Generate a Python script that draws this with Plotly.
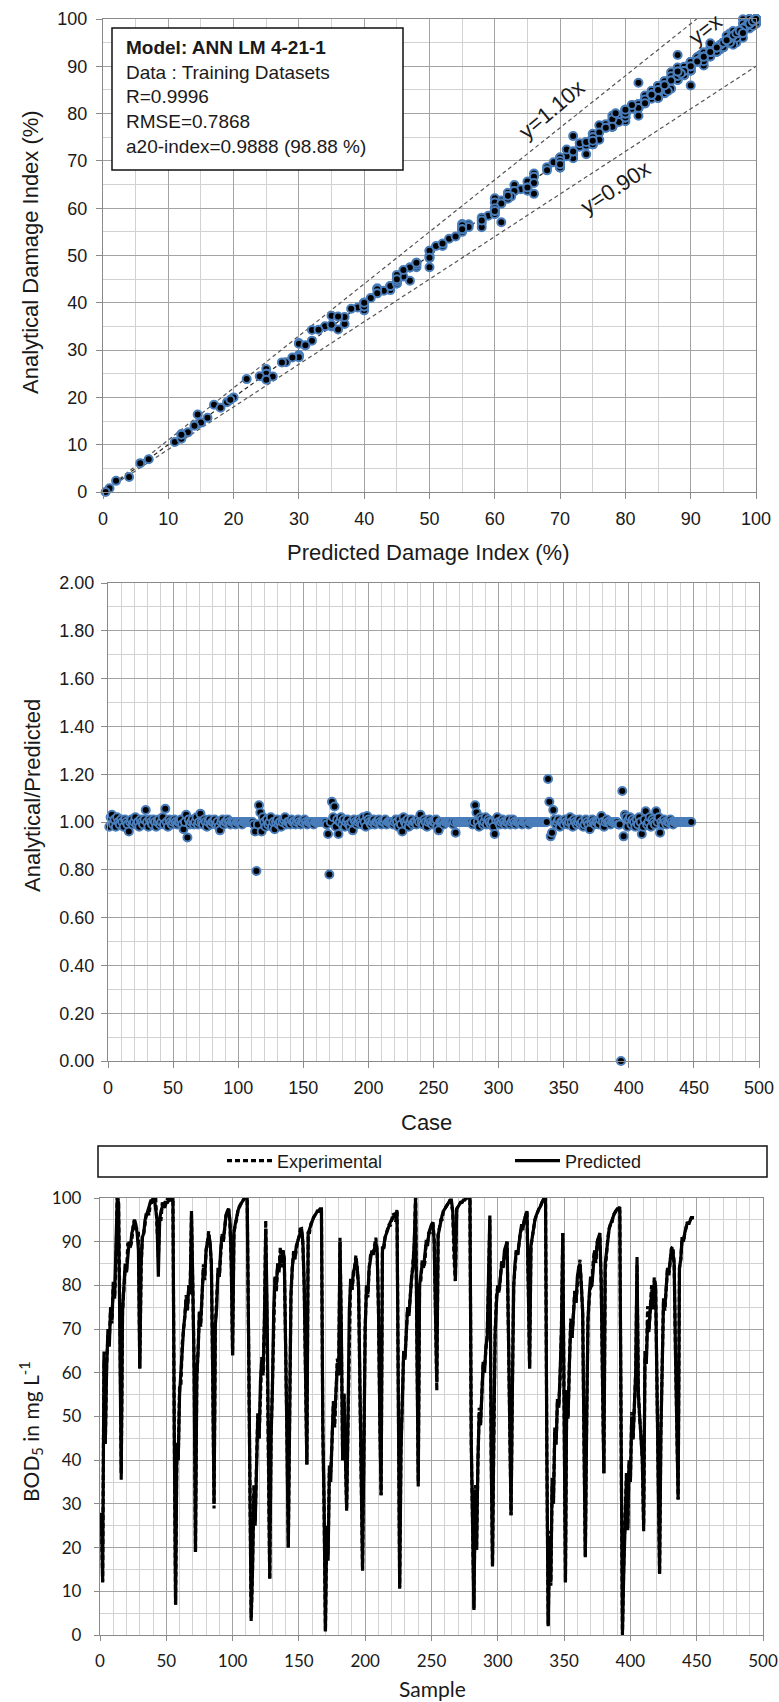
import plotly.graph_objects as go

W, H = 779, 1702

# ---------------- data ----------------
# predicted damage index for each case / sample (1..448)
predicted = [
    28, 12, 63, 44, 61, 70, 66, 75, 72, 80, 77, 86, 100, 99, 75, 37,          # 1-16
    74, 80, 85, 83, 88, 90, 89, 92, 93, 95, 94, 92, 88, 61,                   # 17-30
    85, 91, 92, 95, 96, 97, 98, 99, 99, 100, 100, 98, 95, 82,                 # 31-44
    95, 97, 98, 98, 99, 99, 99, 99.5, 100, 100, 100, 47, 7,                   # 45-57
    44, 40, 55, 61, 66, 70, 73, 77, 75, 80, 78, 97, 80, 60, 19,               # 58-72
    59, 65, 74, 72, 78, 84, 82, 88, 90, 91.5, 90, 85, 60, 30,                 # 73-86
    71, 75, 84, 82, 88, 91, 90, 94, 96, 97, 97.5, 95, 85, 64,                 # 87-100
    92, 94, 96, 97, 98, 98.5, 99, 99.5, 100, 100, 100, 70, 30, 4,             # 101-114
    14.5, 32, 25, 40, 50, 45, 58, 63, 60, 72, 93, 75, 40, 13,                 # 115-128
    45, 56, 74, 82, 80, 85, 83, 87, 85, 88, 86, 70, 45, 20,                   # 129-142
    52, 78, 84, 87, 86, 89, 90, 91, 92, 93, 90, 80, 60, 39,                   # 143-156
    92, 93, 94, 95, 95.5, 96, 96.5, 97, 97, 97.5, 97.5, 48, 30, 1,            # 157-170
    25, 17, 38, 35, 45, 53, 50, 58, 62, 60, 90, 70, 40, 55, 45, 29,           # 171-186
    48, 74, 81, 79, 83, 84, 86, 84, 80, 55, 35, 15,                           # 187-198
    42, 70, 80, 78, 84, 86, 88, 87, 89, 90, 88, 75, 50, 32,                   # 199-212
    88, 89, 91, 92, 93, 94, 94.5, 95, 95.5, 96, 96.5, 96.5, 43, 11,           # 213-226
    42, 55, 65, 63, 70, 75, 73, 78, 82, 84, 90, 100, 70, 34,                  # 227-240
    80, 82, 85, 84, 87, 90, 89, 92, 93, 94, 94.5, 90, 75, 58,                 # 241-254
    91.5, 93, 95, 96, 97, 97.5, 98, 98.5, 99, 99.5, 99.5, 97, 90, 81,         # 255-268
    97.5, 98, 98.5, 99, 99, 99.5, 99.5, 100, 100, 100, 100, 44, 25, 5.7,      # 269-282
    33, 19.5, 40, 51, 48, 58, 62.5, 60, 66, 68, 80, 96, 42, 16,               # 283-296
    47, 69, 76, 80, 79, 83, 85, 84, 88, 89, 90, 70, 45, 27.4,                 # 297-310
    56, 80, 85, 88, 87, 90, 92, 94, 93, 95, 96, 97, 80, 61,                   # 311-324
    89, 91.5, 94, 95, 96, 97, 97.5, 98, 99, 99.5, 100, 100, 41, 2,            # 325-338
    22, 12, 36, 30, 47, 44, 54, 52, 60, 70, 92, 60, 12,                       # 339-351
    56, 50, 62, 71, 68, 75, 78, 76, 82, 84, 85, 80, 74, 45, 18,               # 352-366
    48, 72, 78, 82, 80, 85, 88, 86, 90, 91, 92, 80, 55, 37,                   # 367-380
    85, 88, 90, 93, 94, 95, 96, 96.5, 97, 97.5, 97.5, 98, 46, 0.4,            # 381-394
    14.5, 26, 36, 24, 40, 35, 50, 45, 55, 60, 86.5, 55, 50, 45, 40, 25,       # 395-410
    65, 62, 72, 70, 75, 78.5, 76, 81, 80, 60, 30, 14,                         # 411-422
    46, 66, 77, 75, 80, 84, 83, 86, 88.5, 88, 85, 65, 45, 31,                 # 423-436
    84, 86, 91, 90, 92, 93, 94.5, 94, 95, 95.5, 95.5, 95.5,                   # 437-448
]

# analytical / predicted ratio for each case
ratio = [
    0.98, 1.02, 1.03, 0.99, 1.01, 0.98, 1.02, 1.00, 0.99, 1.01, 1.00, 0.98, 1.01, 1.00, 0.99, 0.96,
    1.00, 1.01, 0.99, 1.00, 1.02, 0.99, 1.00, 0.98, 1.01, 1.00, 0.99, 1.01, 1.05, 1.00, 0.98, 1.01,
    1.00, 0.99, 1.01, 1.00, 0.98, 1.00, 1.01, 0.99, 1.00, 1.02, 0.99, 1.055, 1.00, 0.98, 1.01, 1.00,
    0.99, 1.00, 1.01, 1.00, 0.99, 1.00, 1.00, 1.01, 0.99, 0.97, 1.00, 1.03, 0.935, 1.01, 0.99, 1.00,
    1.01, 0.99, 1.00, 1.02, 0.99, 1.00, 1.035, 1.00, 0.99, 1.01, 1.00, 0.98, 1.00, 1.01, 0.99, 1.00,
    1.00, 1.01, 0.99, 1.00, 0.98, 0.965, 1.00, 1.01, 0.99, 1.00, 1.00, 1.01, 1.00, 0.99, 1.00, 1.00,
    1.00, 0.99, 1.00, 1.00, 1.00, 1.00, 0.99, 1.00, 1.00, 1.00, 1.00, 1.00, 1.00, 1.00, 1.00, 0.99,
    0.96, 0.795, 0.99, 1.07, 1.04, 0.96, 1.02, 1.00, 0.98, 1.01, 0.99, 1.00, 1.02, 0.98, 1.00, 0.97,
    1.00, 1.01, 0.99, 1.00, 0.98, 1.00, 1.01, 1.02, 0.99, 1.00, 1.00, 0.99, 1.01, 1.00, 1.00, 0.99,
    1.00, 1.01, 1.00, 0.99, 1.00, 1.00, 1.01, 1.00, 0.99, 1.00, 1.00, 1.00, 1.00, 0.99, 1.00, 1.00,
    1.00, 1.00, 1.00, 1.00, 1.00, 1.00, 1.00, 0.99, 0.95, 0.78, 1.00, 1.085, 1.02, 1.065, 0.98, 1.01,
    0.95, 1.00, 1.02, 0.99, 1.01, 0.98, 1.00, 1.01, 0.99, 0.98, 1.00, 0.965, 1.01, 1.00, 0.99, 1.00,
    1.01, 1.00, 0.99, 1.02, 1.00, 0.98, 1.025, 1.01, 1.00, 0.99, 1.00, 1.01, 0.99, 1.00, 1.00, 1.01,
    1.00, 0.99, 1.00, 1.00, 1.01, 0.99, 1.00, 1.00, 1.00, 1.00, 0.99, 1.00, 1.01, 1.00, 0.98, 1.01,
    0.99, 0.96, 1.02, 1.00, 0.99, 1.01, 0.98, 1.00, 1.01, 0.99, 1.00, 1.00, 0.99, 1.01, 1.00, 1.03,
    1.00, 0.99, 1.01, 1.00, 0.98, 1.00, 1.01, 1.00, 0.99, 1.00, 1.00, 1.01, 0.98, 0.965, 1.00, 1.00,
    1.00, 0.99, 1.00, 1.00, 1.00, 1.00, 1.00, 1.00, 0.99, 1.00, 0.955, 1.00, 1.00, 1.00, 1.00, 1.00,
    1.00, 1.00, 1.00, 1.00, 1.00, 1.00, 1.00, 0.99, 1.00, 1.07, 1.04, 1.00, 0.98, 1.02, 1.01, 0.99,
    1.00, 1.02, 0.99, 1.01, 1.00, 0.99, 1.00, 0.98, 0.95, 1.01, 1.02, 1.00, 0.99, 1.00, 1.01, 1.00,
    0.99, 1.00, 1.00, 1.01, 0.99, 1.00, 1.01, 1.00, 0.99, 1.00, 1.00, 1.00, 1.00, 0.99, 1.00, 1.00,
    1.00, 1.00, 0.99, 1.00, 1.00, 1.00, 1.00, 1.00, 1.00, 1.00, 1.00, 1.00, 1.00, 1.00, 1.00, 1.00,
    1.00, 1.18, 1.085, 0.94, 0.955, 1.05, 1.01, 0.99, 1.00, 1.01, 0.98, 1.00, 1.00, 0.99, 1.01, 1.00,
    0.99, 1.00, 1.02, 1.00, 0.98, 1.01, 1.00, 0.99, 1.00, 1.01, 0.99, 1.00, 0.98, 0.99, 1.01, 1.00,
    0.99, 0.97, 1.00, 1.01, 1.00, 0.99, 1.00, 1.00, 0.99, 1.01, 1.025, 1.00, 0.98, 1.00, 1.01, 1.00,
    1.00, 0.99, 1.00, 1.00, 1.00, 1.00, 1.00, 0.99, 0.99, 0.00, 1.13, 0.94, 1.03, 1.02, 0.98, 1.01,
    1.02, 0.99, 1.01, 1.00, 0.98, 1.01, 0.99, 1.02, 1.00, 0.95, 0.98, 1.01, 1.045, 0.99, 1.00, 1.02,
    0.98, 1.01, 1.00, 0.99, 1.045, 1.00, 1.02, 0.955, 1.00, 0.99, 1.01, 1.00, 0.99, 1.00, 1.00, 1.01,
    1.00, 0.99, 1.00, 1.00, 1.00, 1.00, 1.00, 1.00, 1.00, 1.00, 1.00, 1.00, 1.00, 1.00, 1.00, 1.00,
]

n = min(len(predicted), len(ratio))
cases = list(range(1, n + 1))
predicted = predicted[:n]
ratio = ratio[:n]
analytical = [round(p * r, 3) for p, r in zip(predicted, ratio)]

ref_slopes = [1.0, 1.10, 0.90]
ref_labels = ["y=x", "y=1.10x", "y=0.90x"]
stats_lines = ["Model: ANN LM 4-21-1", "Data : Training Datasets", "R=0.9996",
               "RMSE=0.7868", "a20-index=0.9888 (98.88 %)"]
series_names = ["Experimental", "Predicted"]

# ---------------- helpers ----------------
def fx(px):
    return px / W

def fy(py):
    return 1 - py / H

ARIAL = "Liberation Sans, Arial, sans-serif"
CALI = "Lato, Carlito, Liberation Sans, sans-serif"
TXT = "#1a1a1a"
MAJ = "#a3a3a3"
MINC = "#d2d2d2"
AXC = "#8a8a8a"
BLUE = "#4a7ebb"

def axis(domain, rng, dtick, minor, anchor, font, fsize=18, fmt=None, standoff=4, ticklen=6):
    d = dict(domain=domain, range=rng, dtick=dtick, tick0=0, anchor=anchor,
             showgrid=True, gridcolor=MAJ, gridwidth=1.3,
             minor=dict(dtick=minor, tick0=0, showgrid=True, gridcolor=MINC, gridwidth=1),
             ticks="outside", ticklen=ticklen, tickcolor=AXC, tickwidth=1.3,
             showline=True, linecolor=AXC, linewidth=1.3, mirror=True,
             zeroline=False, tickfont=dict(family=font, size=fsize, color=TXT),
             automargin=False, fixedrange=True, ticklabelstandoff=standoff)
    if fmt:
        d["tickformat"] = fmt
    return d

fig = go.Figure()

# ---------------- top chart ----------------
line_styles = [dict(color="#222222", width=1.2, dash="4px,3px"),
               dict(color="#555555", width=1.2, dash="4px,3px"),
               dict(color="#555555", width=1.2, dash="4px,3px")]
for s, st in zip(ref_slopes, line_styles):
    xe = min(100.0, 100.0 / s)
    fig.add_trace(go.Scatter(x=[0, xe], y=[0, s * xe], mode="lines", line=st,
                             hoverinfo="skip", showlegend=False, xaxis="x", yaxis="y"))

fig.add_trace(go.Scatter(x=predicted, y=analytical, mode="markers",
                         marker=dict(size=8, color="black", line=dict(color=BLUE, width=2)),
                         showlegend=False, cliponaxis=False, xaxis="x", yaxis="y"))

# ---------------- middle chart ----------------
fig.add_trace(go.Scatter(x=cases, y=ratio, mode="markers",
                         marker=dict(size=8, color="black", line=dict(color=BLUE, width=2)),
                         showlegend=False, cliponaxis=False, xaxis="x2", yaxis="y2"))

# ---------------- bottom chart ----------------
fig.add_trace(go.Scatter(x=cases, y=analytical, mode="lines", name=series_names[0],
                         line=dict(color="black", width=3.2, dash="5px,3px"),
                         legend="legend", xaxis="x3", yaxis="y3"))
fig.add_trace(go.Scatter(x=cases, y=predicted, mode="lines", name=series_names[1],
                         line=dict(color="black", width=3.2),
                         legend="legend2", xaxis="x3", yaxis="y3"))

top_x = [fx(103), fx(756)]
top_y = [fy(492), fy(19)]
mid_x = [fx(108), fx(759)]
mid_y = [fy(1061), fy(583)]
bot_x = [fx(100), fx(763)]
bot_y = [fy(1635), fy(1198)]

leg_common = dict(orientation="h", xanchor="left", yanchor="middle", y=fy(1161),
                  bgcolor="rgba(0,0,0,0)", borderwidth=0, itemwidth=45,
                  font=dict(family=ARIAL, size=18, color=TXT))

fig.update_layout(
    width=W, height=H, margin=dict(l=0, r=0, t=0, b=0),
    paper_bgcolor="white", plot_bgcolor="white",
    xaxis=axis(top_x, [0, 100], 10, 5, "y", ARIAL, standoff=4),
    yaxis=axis(top_y, [0, 100], 10, 5, "x", ARIAL, standoff=5),
    xaxis2=axis(mid_x, [0, 500], 50, 10, "y2", ARIAL, standoff=4),
    yaxis2=axis(mid_y, [0, 2], 0.2, 0.1, "x2", ARIAL, fmt=".2f", standoff=3),
    xaxis3=axis(bot_x, [0, 500], 50, 10, "y3", CALI, fsize=17, standoff=5, ticklen=5),
    yaxis3=axis(bot_y, [0, 100], 10, 5, "x3", CALI, fsize=17, standoff=9, ticklen=5),
    showlegend=True,
    legend=dict(x=fx(222), **leg_common),
    legend2=dict(x=fx(510), **leg_common),
)

shapes = [
    # stats box
    dict(type="rect", xref="paper", yref="paper", x0=fx(112), x1=fx(403), y0=fy(170), y1=fy(28),
         line=dict(color="#111111", width=1.5), fillcolor="white", layer="above"),
    # legend frame
    dict(type="rect", xref="paper", yref="paper", x0=fx(98), x1=fx(767), y0=fy(1177), y1=fy(1146),
         line=dict(color="#111111", width=1.5), fillcolor="rgba(0,0,0,0)"),
]

stats_text = "<b>" + stats_lines[0] + "</b><br>" + "<br>".join(stats_lines[1:])

def title(text, x, y, angle=0, font=ARIAL, size=22):
    return dict(xref="paper", yref="paper", x=fx(x), y=fy(y), xanchor="center", yanchor="middle",
                text=text, textangle=angle, showarrow=False,
                font=dict(family=font, size=size, color=TXT))

def line_label(text, x, y, angle):
    return dict(xref="x", yref="y", x=x, y=y, xanchor="center", yanchor="middle",
                text=text, textangle=angle, showarrow=False,
                font=dict(family=ARIAL, size=22, color=TXT))

anns = [
    dict(xref="paper", yref="paper", x=fx(124), y=fy(35), xanchor="left", yanchor="top",
         align="left", showarrow=False, text=stats_text,
         font=dict(family=ARIAL, size=19, color=TXT)),
    line_label(ref_labels[0], 92.2, 97.8, -38),
    line_label(ref_labels[1], 68.7, 80.8, -40),
    line_label(ref_labels[2], 78.5, 64.3, -33),
    title("Predicted Damage Index (%)", 428, 552),
    title("Analytical Damage Index (%)", 30, 252, angle=-90),
    title("Analytical/Predicted", 32, 796, angle=-90),
    title("Case", 427, 1122),
    title("BOD<sub>5</sub> in mg L<sup>-1</sup>", 30, 1432, angle=-90, font=CALI, size=21),
    title("Sample", 432, 1688, font=CALI, size=21),
]
fig.update_layout(shapes=shapes, annotations=anns)

fig.write_html("out.html")
